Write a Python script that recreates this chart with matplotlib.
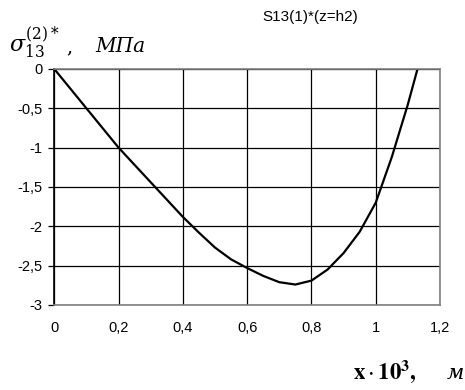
import matplotlib
matplotlib.use("Agg")
import matplotlib.pyplot as plt

x_vals = [0, 0.05, 0.1, 0.15, 0.2, 0.25, 0.3, 0.35, 0.4, 0.45, 0.5, 0.55, 0.6,
          0.65, 0.7, 0.75, 0.8, 0.85, 0.9, 0.95, 1.0, 1.05, 1.1, 1.13]
s13_vals = [0, -0.25, -0.5, -0.75, -1.0, -1.22, -1.44, -1.66, -1.88, -2.08, -2.27,
            -2.42, -2.53, -2.63, -2.71, -2.74, -2.69, -2.55, -2.34, -2.07, -1.70,
            -1.12, -0.45, 0.0]
x_ticks = [0, 0.2, 0.4, 0.6, 0.8, 1.0, 1.2]
x_tick_labels = ["0", "0,2", "0,4", "0,6", "0,8", "1", "1,2"]
y_ticks = [0, -0.5, -1, -1.5, -2, -2.5, -3]
y_tick_labels = ["0", "-0,5", "-1", "-1,5", "-2", "-2,5", "-3"]

plt.rcParams['mathtext.fontset'] = 'dejavuserif'
W, H = 465, 390
fig = plt.figure(figsize=(4.65, 3.9), dpi=100)
ax = fig.add_axes([54.3/W, 1-305/H, (440-54.3)/W, (305-69)/H])
ax.plot(x_vals, s13_vals, color='black', lw=1.6)
ax.set_xlim(0, 1.2)
ax.set_ylim(-3, 0)
ax.set_xticks(x_ticks)
ax.set_xticklabels(x_tick_labels, family='Liberation Sans', fontsize=10.5)
ax.set_yticks(y_ticks)
ax.set_yticklabels(y_tick_labels, family='Liberation Sans', fontsize=10.5)
ax.grid(True, color='black', lw=0.9)
ax.tick_params(axis='x', length=0, pad=11.5)
ax.tick_params(axis='y', length=4.5, width=0.9, pad=4)
for s in ax.spines.values():
    s.set_color('#808080')
    s.set_linewidth(1.2)
ax.spines['left'].set_color('black')

fig.text(310/W, 1-17/H, "S13(1)*(z=h2)", family='Liberation Sans', fontsize=11,
         ha='center', va='center')

# y-axis label
fig.text(9/W, 1-52/H, r"$\sigma_{13}^{(2)*}$", fontsize=16, ha='left', va='baseline')
fig.text(66/W, 1-52/H, ",", family='DejaVu Serif', fontsize=14, ha='left', va='baseline')
fig.text(95/W, 1-52/H, "МПа", family='DejaVu Serif', style='italic', fontsize=14.5,
         ha='left', va='baseline')

# x-axis label
fig.text(353/W, 1-379/H, r"$\mathbf{x}\cdot\mathbf{10}^{\mathbf{3}}$,", family='STIXGeneral',
         math_fontfamily='stix', fontsize=16.5, fontweight='bold', ha='left', va='baseline')
fig.text(447/W, 1-379/H, "м", family='DejaVu Serif', fontsize=15, style='italic',
         ha='left', va='baseline')

fig.savefig("out.png", dpi=100)
